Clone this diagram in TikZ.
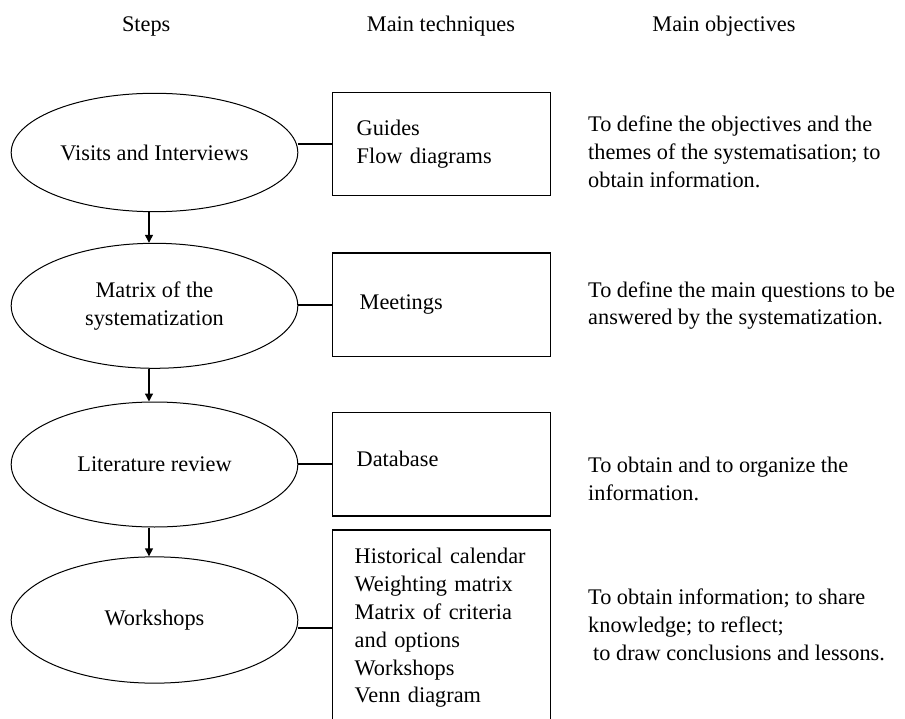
\documentclass[tikz,border=0pt]{standalone}
\usepackage{fontspec}
\setmainfont{Liberation Serif}
\usepackage{tikz}
\usetikzlibrary{shapes.geometric}
\usetikzlibrary{arrows.meta}
\pgfdeclarelayer{edgelayer}
\pgfdeclarelayer{nodelayer}
\pgfsetlayers{edgelayer,nodelayer,main}
\tikzstyle{stage}=[ellipse,fill=white,draw=black,line width=1pt,inner sep=0pt,minimum width=286.6pt,minimum height=125pt,align=center]
\tikzstyle{technique}=[rectangle,fill=white,draw=black,line width=1.5pt,inner xsep=22pt,inner ysep=0pt,text width=174pt,align=left,minimum height=103.4pt]
\tikzstyle{objective}=[anchor=base west,align=left,inner sep=0pt]
\tikzstyle{heading}=[anchor=base,inner sep=0pt]
\tikzstyle{flow}=[-{Triangle[length=8pt,width=8pt]},draw=black,line width=1.3pt]
\tikzstyle{link}=[-,draw=black,line width=1.6pt]

\begin{document}
\begin{tikzpicture}[x=1pt,y=1pt,font=\fontsize{22.3pt}{27.8pt}\selectfont]
	\useasboundingbox (0,0) rectangle (905,-719);
	\begin{pgfonlayer}{nodelayer}
		\node [style=heading] (h0) at (146.2, -32) {Steps};
		\node [style=heading] (h1) at (441, -32) {Main techniques};
		\node [style=heading] (h2) at (724, -32) {Main objectives};
		\node [style=stage, minimum height=118.4pt] (0) at (154.5, -152.5) {Visits and Interviews};
		\node [style=stage] (1) at (154.5, -305.8) {Matrix of the\\systematization};
		\node [style=stage] (2) at (154.5, -464.5) {Literature review};
		\node [style=stage, minimum height=126.3pt] (3) at (154.5, -620) {Workshops};
		\node [style=technique] (4) at (441.7, -144) {\hspace*{2pt}Guides\\\hspace*{2pt}Flow diagrams};
		\node [style=technique] (5) at (441.7, -304.8) {\hspace*{5pt}Meetings};
		\node [style=technique, text depth=10pt] (6) at (441.7, -464.2) {\hspace*{2pt}Database};
		\node [style=technique, minimum height=196pt] (7) at (441.7, -628) {Historical calendar\\Weighting matrix\\Matrix of criteria\\and options\\Workshops\\Venn diagram};
		\node [style=objective] (8) at (588, -187.3) {To define the objectives and the\\themes of the systematisation;\ to\\obtain information.};
		\node [style=objective] (9) at (588, -325) {To define the main questions to be\\answered by the systematization.};
		\node [style=objective] (10) at (588, -500) {To obtain and to organize the\\information.};
		\node [style=objective] (11) at (588, -660) {To obtain information; to share\\knowledge; to reflect;\\\hspace*{5pt}to draw conclusions and lessons.};
	\end{pgfonlayer}
	\begin{pgfonlayer}{edgelayer}
		\draw [style=flow] ([xshift=-5.5pt]0.south) to ([xshift=-5.5pt]1.north);
		\draw [style=flow] ([xshift=-5.5pt]1.south) to ([xshift=-5.5pt]2.north);
		\draw [style=flow] ([xshift=-5.5pt]2.south) to ([xshift=-5.5pt]3.north);
		\draw [style=link] (4.west) to (4.west -| 0.east);
		\draw [style=link] (5.west) to (5.west -| 1.east);
		\draw [style=link] (6.west) to (6.west -| 2.east);
		\draw [style=link] (7.west) to (7.west -| 3.east);
	\end{pgfonlayer}
\end{tikzpicture}
\end{document}
